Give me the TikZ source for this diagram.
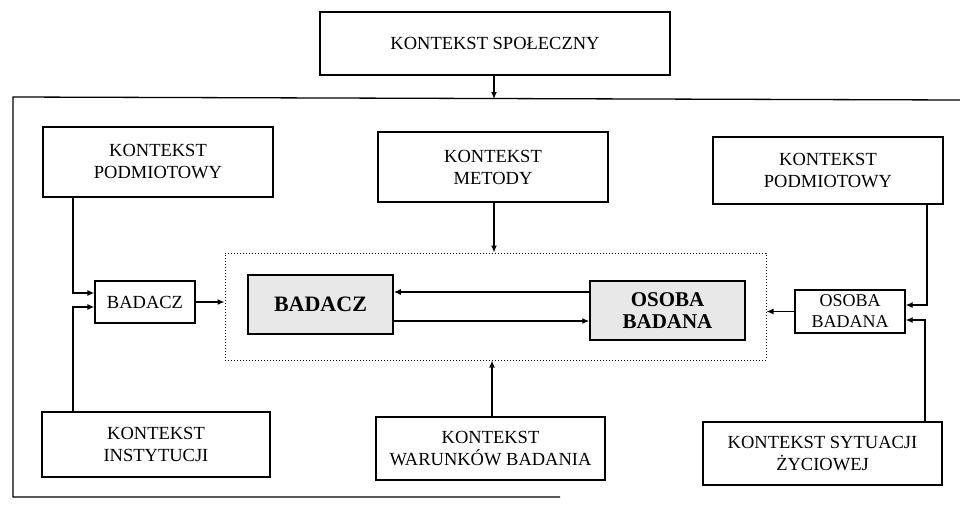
\documentclass[tikz,border=0pt]{standalone}
\usepackage{fontspec}
\setmainfont{Liberation Serif}
\usetikzlibrary{arrows.meta,calc}
\begin{document}
\begin{tikzpicture}[x=1pt,y=-1pt,
  box/.style={draw,line width=1.3pt,inner sep=0pt,align=center,
    font=\fontsize{18.5}{22}\selectfont},
  shbox/.style={box,fill=gray!18,line width=1.5pt,font=\fontsize{21}{22.5}\selectfont\bfseries},
  arr/.style={line width=1.3pt,-{Latex[length=7pt,width=6pt]}},
  ln/.style={line width=1.3pt}]
\useasboundingbox (0,0) rectangle (960,506);
% outer frame (open, as in scan)
\draw[ln] (560,497) -- (13,497) -- (13,97) -- (960,100);
\coordinate (ftop) at (494,99);
% context boxes
\node[box,minimum width=350pt,minimum height=63pt] (social) at (495,43.5) {KONTEKST SPOŁECZNY};
\node[box,minimum width=230pt,minimum height=70pt] (podL) at (158,162) {KONTEKST\\PODMIOTOWY};
\node[box,minimum width=230pt,minimum height=70pt] (met) at (493,167) {KONTEKST\\METODY};
\node[box,minimum width=230pt,minimum height=67pt] (podR) at (828,170.5) {KONTEKST\\PODMIOTOWY};
\node[box,minimum width=228pt,minimum height=65pt] (inst) at (156,444.5) {KONTEKST\\INSTYTUCJI};
\node[box,minimum width=229pt,minimum height=63pt] (war) at (490.5,448.5) {KONTEKST\\WARUNKÓW BADANIA};
\node[box,minimum width=239pt,minimum height=63pt] (syt) at (822.5,453.5) {KONTEKST SYTUACJI\\ŻYCIOWEJ};
% small boxes
\node[box,minimum width=100pt,minimum height=42pt] (badS) at (145,302) {BADACZ};
\node[box,minimum width=110pt,minimum height=43pt,font=\fontsize{18}{21}\selectfont] (osS) at (850,311.5) {OSOBA\\BADANA};
% core
\node[draw,dotted,line width=1pt,minimum width=541pt,minimum height=107pt,inner sep=0pt] (core) at (495.5,306.5) {};
\node[shbox,minimum width=145pt,minimum height=59pt,font=\fontsize{22}{24}\selectfont\bfseries] (badB) at (320.5,304.5) {BADACZ};
\node[shbox,minimum width=155pt,minimum height=59pt] (osB) at (667.5,310.5) {OSOBA\\BADANA};
% connectors
\draw[arr] (social.south -| ftop) -- (ftop);
\draw[arr] ([xshift=1pt]met.south) -- ([xshift=1pt]met.south |- core.north);
\draw[arr] ([xshift=1.5pt]war.north) -- ([xshift=1.5pt]war.north |- core.south);
\draw[arr] ([xshift=-85pt]podL.south) |- ([yshift=9pt]badS.west);
\draw[arr] ([xshift=-83pt]inst.north) |- ([yshift=-5pt]badS.west);
\draw[arr] (badS.east) -- (badS.east -| core.west);
\draw[arr] ([yshift=18.5pt]osB.west) -- ([yshift=18.5pt]osB.west -| badB.east);
\draw[arr] ([yshift=-16.5pt]badB.east) -- ([yshift=-16.5pt]badB.east -| osB.west);
\draw[arr] (osS.west) -- (osS.west -| core.east);
\draw[arr] ([xshift=99pt]podR.south) |- ([yshift=6.5pt]osS.east);
\draw[arr] ([xshift=102.5pt]syt.north) |- ([yshift=-8.5pt]osS.east);
\end{tikzpicture}
\end{document}
